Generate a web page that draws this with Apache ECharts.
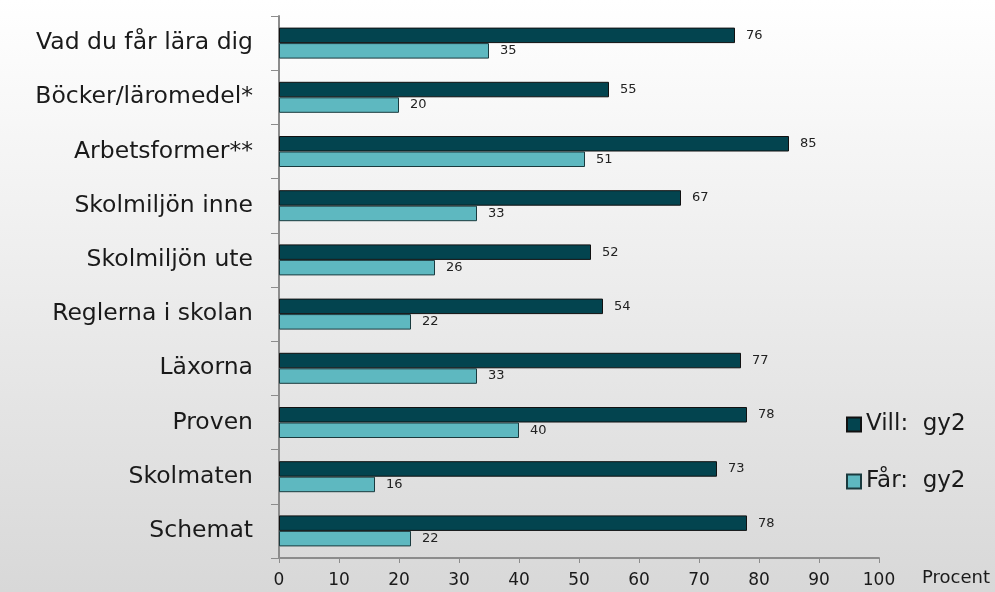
<!DOCTYPE html>
<html><head><meta charset="utf-8">
<script src="https://cdn.jsdelivr.net/npm/echarts@6/dist/echarts.min.js"></script>
<style>html,body{margin:0;padding:0;}#c{width:995px;height:592px;background:linear-gradient(to bottom,#ffffff 0%,#d8d8d8 100%);}</style>
</head><body><div id="c"></div>
<script>
const categories = ["Vad du får lära dig","Böcker/läromedel*","Arbetsformer**","Skolmiljön inne","Skolmiljön ute","Reglerna i skolan","Läxorna","Proven","Skolmaten","Schemat"];
const villValues = [76,55,85,67,52,54,77,78,73,78];
const farValues = [35,20,51,33,26,22,33,40,16,22];
const xTicks = [0,10,20,30,40,50,60,70,80,90,100];
const seriesNames = ["Vill:  gy2","Får:  gy2"];

const chart = echarts.init(document.getElementById('c'));
const font = "DejaVu Sans, Verdana, sans-serif";
chart.setOption({
  animation: false,
  backgroundColor: 'transparent',
  grid: {left: 279, right: 116, top: 16, bottom: 34, containLabel: false},
  xAxis: {
    type: 'value', min: xTicks[0], max: xTicks[xTicks.length-1], interval: 10,
    axisLine: {show: true, lineStyle: {color: '#8c8c8c', width: 2}},
    axisTick: {show: true, length: 5, lineStyle: {color: '#8c8c8c'}},
    splitLine: {show: false},
    axisLabel: {fontFamily: font, fontSize: 17, color: '#1a1a1a', margin: 14}
  },
  yAxis: {
    type: 'category', data: categories, inverse: true,
    axisLine: {show: true, lineStyle: {color: '#8c8c8c', width: 2}},
    axisTick: {show: true, length: 8, lineStyle: {color: '#8c8c8c'}},
    axisLabel: {fontFamily: font, fontSize: 23.5, color: '#1a1a1a', margin: 26}
  },
  legend: {
    orient: 'vertical', left: 841, top: 408, itemGap: 34,
    itemWidth: 14, itemHeight: 14, icon: 'rect',
    textStyle: {fontFamily: font, fontSize: 23, color: '#1a1a1a'},
    data: seriesNames
  },
  graphic: [{type: 'text', left: 922, top: 569, style: {text: 'Procent', font: '18px ' + font, fill: '#1a1a1a'}}],
  series: [
    {name: seriesNames[0], type: 'bar', data: villValues, barWidth: 15.5, barGap: '0%',
     itemStyle: {color: '#03444f', borderColor: '#111', borderWidth: 1},
     label: {show: true, position: 'right', distance: 11, fontFamily: font, fontSize: 13, color: '#222'}},
    {name: seriesNames[1], type: 'bar', data: farValues, barWidth: 15.5, barGap: '0%',
     itemStyle: {color: '#5eb8c0', borderColor: '#1a3a3e', borderWidth: 1},
     label: {show: true, position: 'right', distance: 11, fontFamily: font, fontSize: 13, color: '#222'}}
  ]
});
</script></body></html>
